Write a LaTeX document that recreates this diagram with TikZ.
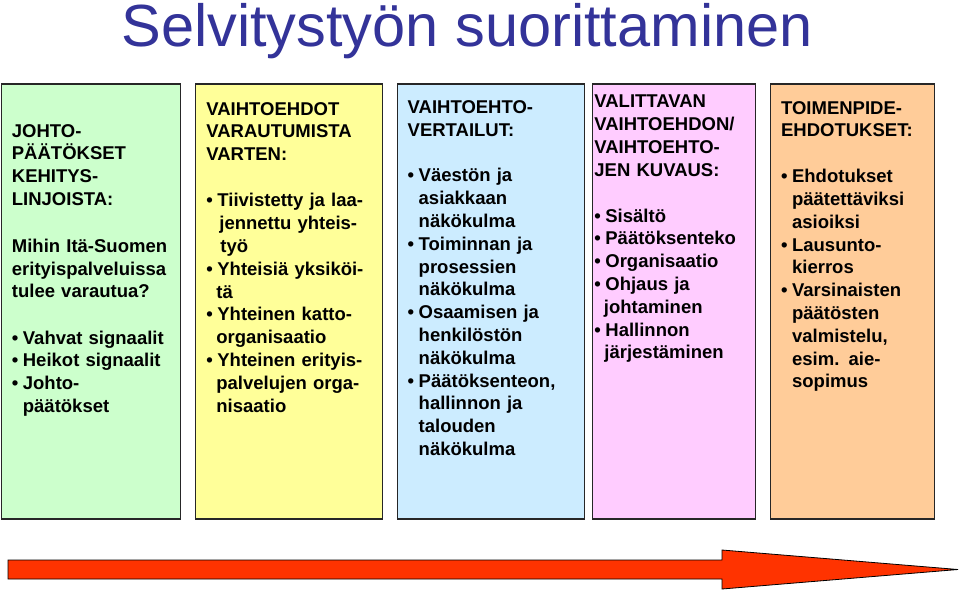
\documentclass[tikz,border=0pt]{standalone}
\usepackage{fontspec}
\setmainfont{Liberation Sans}
\usetikzlibrary{positioning}
\definecolor{titleblue}{HTML}{333399}
\definecolor{johtogreen}{HTML}{CCFFCC}
\definecolor{vaihtyellow}{HTML}{FFFF99}
\definecolor{vertblue}{HTML}{CCECFF}
\definecolor{kuvauspink}{HTML}{FFCCFF}
\definecolor{toimenorange}{HTML}{FFCC99}
\definecolor{arrowred}{HTML}{FF3300}
\newcommand\itm[2][11pt]{\par\noindent\makebox[#1][l]{•}#2}
\newcommand\cnt[2][11pt]{\par\noindent\hspace*{#1}#2}
\begin{document}
\begin{tikzpicture}[x=1pt,y=-1pt,
    box/.style={draw=black!85,line width=1.2pt,minimum height=435pt,inner sep=0pt,outer sep=0pt,anchor=north west},
    txt/.style={anchor=base west,inner sep=0pt,text width=175pt,align=left,
      font=\fontsize{18.5}{22.8}\selectfont\bfseries}]
  \useasboundingbox (0,0) rectangle (960,592);

  \node (title) [anchor=base,inner sep=0pt,text=titleblue,font=\fontsize{59.5}{72}\selectfont] at (467,46) {Selvitystyön suorittaminen};

  \node (johto)  [box,fill=johtogreen,minimum width=179pt]                   at (1.2,84) {};
  \node (vaiht)  [box,fill=vaihtyellow,minimum width=187pt,right=15pt of johto] {};
  \node (vert)   [box,fill=vertblue,minimum width=187pt,right=15pt of vaiht]    {};
  \node (kuvaus) [box,fill=kuvauspink,minimum width=163pt,right=8pt of vert]    {};
  \node (toimen) [box,fill=toimenorange,minimum width=164pt,right=15pt of kuvaus] {};

  \node (johtotxt) [txt] at ([xshift=10.5pt,yshift=-53pt]johto.north west)
    {JOHTO-\\PÄÄTÖKSET\\KEHITYS-\\LINJOISTA:\par\vspace{24pt}
     Mihin Itä-Suomen\\erityispalveluissa\\tulee varautua?\par\vspace{23.5pt}
     \itm{Vahvat signaalit}\itm{Heikot signaalit}\itm{Johto-}\cnt{päätökset}};
  \node (vaihttxt) [txt] at ([xshift=11pt,yshift=-31pt]vaiht.north west)
    {VAIHTOEHDOT\\VARAUTUMISTA\\VARTEN:\par\vspace{23.5pt}
     \itm{Tiivistetty ja laa-}\cnt[13pt]{jennettu yhteis-}\cnt[14pt]{työ}
     \itm{Yhteisiä yksiköi-}\cnt[10pt]{tä}
     \itm{Yhteinen katto-}\cnt[10pt]{organisaatio}
     \itm{Yhteinen erityis-}\cnt[10pt]{palvelujen orga-}\cnt[10pt]{nisaatio}};
  \node (verttxt) [txt] at ([xshift=10.3pt,yshift=-29.3pt]vert.north west)
    {VAIHTOEHTO-\\VERTAILUT:\par\vspace{23pt}
     \itm{Väestön ja}\cnt{asiakkaan}\cnt{näkökulma}
     \itm{Toiminnan ja}\cnt{prosessien}\cnt{näkökulma}
     \itm{Osaamisen ja}\cnt{henkilöstön}\cnt{näkökulma}
     \itm{Päätöksenteon,}\cnt{hallinnon ja}\cnt{talouden}\cnt{näkökulma}};
  \node (kuvaustxt) [txt] at ([xshift=2pt,yshift=-23.7pt]kuvaus.north west)
    {VALITTAVAN\\VAIHTOEHDON/\\VAIHTOEHTO-\\JEN KUVAUS:\par\vspace{23.2pt}
     \itm{Sisältö}\itm{Päätöksenteko}\itm{Organisaatio}
     \itm{Ohjaus ja}\cnt[9.5pt]{johtaminen}
     \itm{Hallinnon}\cnt[10pt]{järjestäminen}};
  \node (toimentxt) [txt] at ([xshift=10.7pt,yshift=-30pt]toimen.north west)
    {TOIMENPIDE-\\EHDOTUKSET:\par\vspace{23pt}
     \itm{Ehdotukset}\cnt{päätettäviksi}\cnt{asioiksi}
     \itm{Lausunto-}\cnt{kierros}
     \itm{Varsinaisten}\cnt{päätösten}\cnt{valmistelu,}\cnt{esim. aie-}\cnt{sopimus}};

  \draw [fill=arrowred,draw=black,line width=0.8pt]
    (8,560) -- (722,560) -- (722,550) -- (958,569.5) -- (722,589) -- (722,579) -- (8,579) -- cycle;
\end{tikzpicture}
\end{document}
